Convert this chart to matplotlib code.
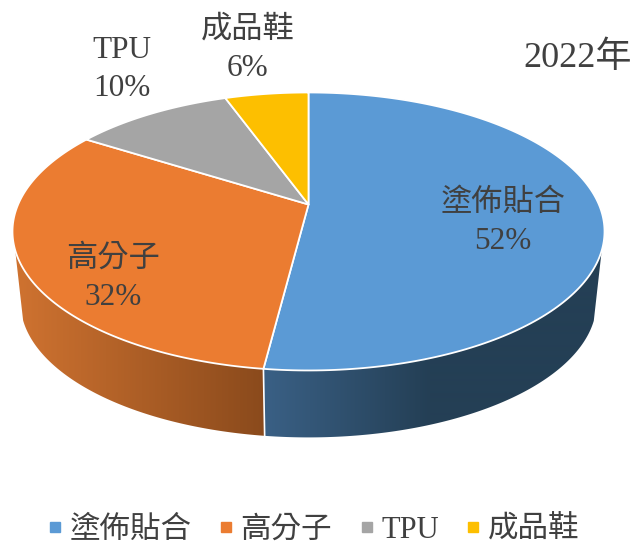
# -*- coding: utf-8 -*-
"""2022年 3D pie, drawn on a pixel-sized axes with a small perspective map."""
import numpy as np
import matplotlib
matplotlib.use("Agg")
import matplotlib.pyplot as plt
from matplotlib.colors import to_rgb
from matplotlib.lines import Line2D
from matplotlib.patches import Polygon

FONT = ["Liberation Serif", "Noto Sans CJK TC", "DejaVu Sans"]
plt.rcParams["font.family"] = FONT

categories = ["塗佈貼合", "高分子", "TPU", "成品鞋"]
shares = [52, 32, 10.5, 5.5]
share_labels = ["52%", "32%", "10%", "6%"]
title = "2022年"

colors = ["#5B9AD5", "#EB7C31", "#A5A5A5", "#FDBF00"]
TEXT = "#404040"
label_xy = [(503, 222.5), (113, 278.5), (122, 69.5), (248, 49.5)]

# perspective of the disc
CX, CY = 308.5, 231.5
K, B, C, A = 0.194, 139.0, 27.0, 290.4
# the lower rim is the upper one scaled towards a far point
SCALE, VY = 0.973, 2850.0
W, H = 634, 543


def rim(theta):
    x, y = np.sin(theta), np.cos(theta)
    d = 1 + K * y
    return CX + A * x / d, CY - (B * y + C) / d


def lower(px, py):
    return CX + SCALE * (px - CX), VY + SCALE * (py - VY)


def shade(x, x0, x1, c0, c1):
    # left to right shading of the side wall
    t = np.clip((x - x0) / (x1 - x0), 0, 1)[:, None]
    return np.array(to_rgb(c0)) * (1 - t) + np.array(to_rgb(c1)) * t


fig = plt.figure(figsize=(W / 100, H / 100), dpi=100)
ax = fig.add_axes([0, 0, 1, 1])

edges = np.radians(np.cumsum([0] + shares) * 3.6)
xs = np.arange(W) + 0.5
wall_shades = [shade(xs, 265, 430, "#3A6085", "#243F55"),
               shade(xs, 20, 265, "#CE7230", "#8A4A1C")]

# side wall, only the two front slices show it
for i, grad in enumerate(wall_shades):
    th = np.linspace(edges[i], edges[i + 1], 400)
    px, py = rim(th)
    keep = py >= 250
    px, py = px[keep], py[keep]
    qx, qy = lower(px, py)
    poly = Polygon(np.c_[np.r_[px, qx[::-1]], np.r_[py, qy[::-1]]], closed=True,
                   transform=ax.transData, fc="none", ec="none")
    im = ax.imshow(grad[None, :, :], extent=(0, W, H, 0), aspect="auto", zorder=1,
                   interpolation="bilinear")
    im.set_clip_path(poly)

# white seam where the two front slices meet
sx, sy = rim(edges[1])
ex, ey = lower(sx, sy)
ax.plot([sx, ex], [sy, ey], color="white", lw=1.2, zorder=2)

# top face
for i in range(len(shares)):
    th = np.linspace(edges[i], edges[i + 1], 200)
    px, py = rim(th)
    ax.fill(np.r_[CX, px], np.r_[CY - C, py], facecolor=colors[i],
            edgecolor="white", lw=1.3, joinstyle="round", zorder=3)

ax.set_xlim(0, W)
ax.set_ylim(H, 0)
ax.axis("off")

for i, (x, y) in enumerate(label_xy):
    ax.text(x, y, f"{categories[i]}\n{share_labels[i]}", ha="center", va="center",
            fontsize=22.5, color=TEXT, linespacing=1.45, zorder=4)

ax.text(578, 58, title, ha="center", va="center", fontsize=26, color=TEXT)

handles = [Line2D([], [], ls="none", marker="s", ms=6.6, mfc=c, mec=c) for c in colors]
ax.legend(handles, categories, ncol=4, frameon=False, fontsize=22, labelcolor=TEXT,
          loc="center", bbox_to_anchor=(314, 530), bbox_transform=ax.transData,
          handlelength=0.42, handletextpad=0.26, columnspacing=0.92,
          borderpad=0, borderaxespad=0)

fig.savefig("out.png", dpi=100)
